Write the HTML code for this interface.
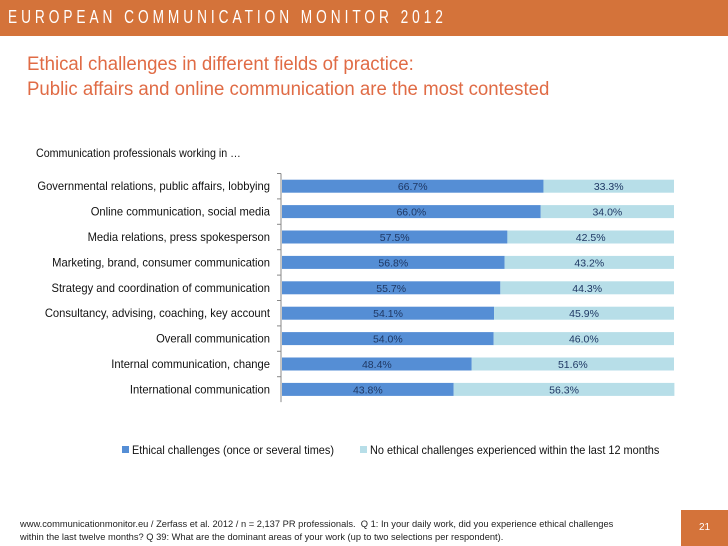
<!DOCTYPE html>
<html><head><meta charset="utf-8"><style>
body{margin:0;width:728px;height:546px;background:#fff;font-family:"Liberation Sans",sans-serif;position:relative;overflow:hidden}
.abs{position:absolute}
</style></head><body>
<div class="abs" style="left:0;top:0;width:728px;height:36px;background:#D4733A"></div>
<div class="abs" style="left:8px;top:7px;color:#fff;font-size:18px;letter-spacing:5.2px;font-family:'Liberation Sans',sans-serif;transform:scaleX(0.76);transform-origin:left;white-space:nowrap">EUROPEAN COMMUNICATION MONITOR 2012</div>
<div class="abs" style="left:27px;top:52px;color:#E06B45;font-size:19px;line-height:25px;font-family:'Liberation Sans',sans-serif;transform:scaleX(0.98);transform-origin:left;white-space:nowrap">Ethical challenges in different fields of practice:<br>Public affairs and online communication are the most contested</div>
<svg class="abs" style="left:0;top:0" width="728" height="546" id="chart"></svg>
<div class="abs" style="left:20px;top:518px;font-size:9.5px;line-height:13px;color:#222;font-family:'Liberation Sans',sans-serif;transform:scaleX(0.98);transform-origin:left;white-space:nowrap">www.communicationmonitor.eu / Zerfass et al. 2012 / n = 2,137 PR professionals.&nbsp; Q 1: In your daily work, did you experience ethical challenges<br>within the last twelve months? Q 39: What are the dominant areas of your work (up to two selections per respondent).</div>
<div class="abs" style="left:681px;top:510px;width:47px;height:36px;background:#D4733A;color:#fff;font-size:10px;text-align:center;line-height:36px;font-family:'Liberation Sans',sans-serif">21</div>
<script>
const categories=["Governmental relations, public affairs, lobbying","Online communication, social media","Media relations, press spokesperson","Marketing, brand, consumer communication","Strategy and coordination of communication","Consultancy, advising, coaching, key account","Overall communication","Internal communication, change","International communication"];
const ethical=[66.7,66.0,57.5,56.8,55.7,54.1,54.0,48.4,43.8];
const noEthical=[33.3,34.0,42.5,43.2,44.3,45.9,46.0,51.6,56.3];
const seriesNames=["Ethical challenges (once or several times)","No ethical challenges experienced within the last 12 months"];
const svg=document.getElementById('chart');const NS='http://www.w3.org/2000/svg';
const x0=282,xw=392,y0=173.5,rowH=25.4,barH=13;
const xs=v=>x0+v/100*xw;const yc=i=>y0+rowH*(i+0.5);
function mk(t,a){const e=document.createElementNS(NS,t);for(const k in a)e.setAttribute(k,a[k]);svg.appendChild(e);return e;}
const font="Liberation Sans, sans-serif";
const sub=mk('text',{x:36,y:157,'font-size':11.5,fill:'#111','font-family':font,transform:'translate(36 0) scale(0.93 1) translate(-36 0)'});sub.textContent="Communication professionals working in …";


const ax=mk('line',{x1:281,x2:281,y1:y0,y2:y0+rowH*categories.length,stroke:'#888'});


categories.forEach((c,i)=>{
  const y=yc(i);
  const tk=mk('line',{x1:277,x2:281,y1:y0+rowH*i,y2:y0+rowH*i,stroke:'#888'});
  
  
  const l=mk('text',{x:270,y:y+4,'text-anchor':'end','font-size':11.5,fill:'#111','font-family':font,transform:'translate(270 0) scale(0.975 1) translate(-270 0)'});l.textContent=c;
  
  
  const b1=mk('rect',{x:xs(0),y:y-barH/2,width:xs(ethical[i])-xs(0),height:barH,fill:'#558ED5'});
  
  
  const b2=mk('rect',{x:xs(ethical[i]),y:y-barH/2,width:xs(ethical[i]+noEthical[i])-xs(ethical[i]),height:barH,fill:'#B7DEE8'});
  
  
  const t1=mk('text',{x:(xs(0)+xs(ethical[i]))/2,y:y+4,'text-anchor':'middle','font-size':10.5,fill:'#1F3864','font-family':font});t1.textContent=ethical[i].toFixed(1)+'%';
  
  
  const t2=mk('text',{x:(xs(ethical[i])+xs(ethical[i]+noEthical[i]))/2,y:y+4,'text-anchor':'middle','font-size':10.5,fill:'#1F3864','font-family':font});t2.textContent=noEthical[i].toFixed(1)+'%';
  
  
});
const lg=[[122,'#558ED5'],[360,'#B7DEE8']];
lg.forEach((L,k)=>{
  const r=mk('rect',{x:L[0],y:446,width:7,height:7,fill:L[1]});
  
  
  const tx=L[0]+10;
  const t=mk('text',{x:tx,y:454,'font-size':11.5,fill:'#111','font-family':font,transform:'translate('+tx+' 0) scale(0.95 1) translate('+(-tx)+' 0)'});t.textContent=seriesNames[k];
  
  
});
</script>
</body></html>
